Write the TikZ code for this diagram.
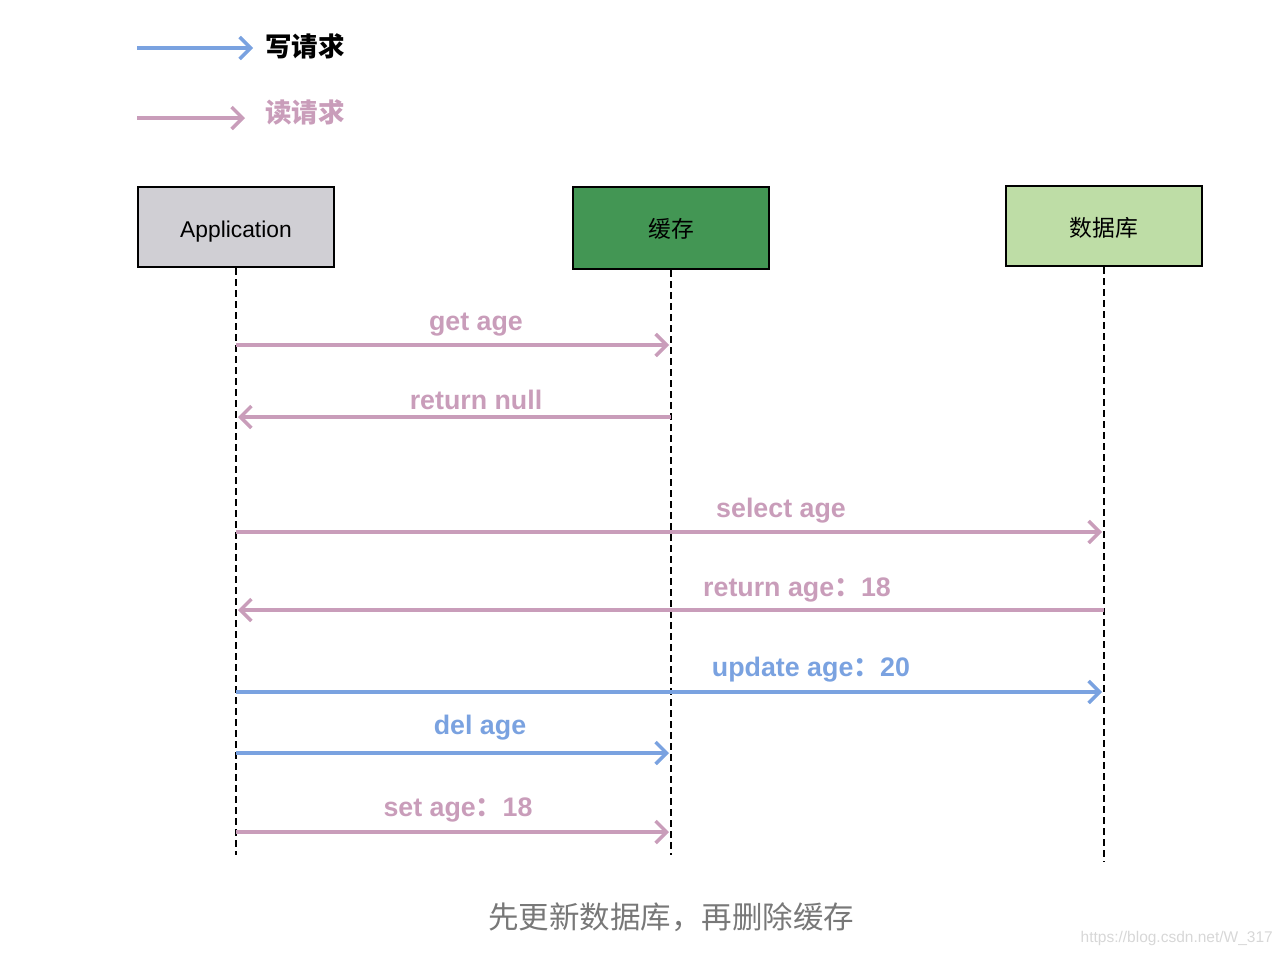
\documentclass[tikz,border=0pt]{standalone}
\usepackage{fontspec}
\setmainfont{Liberation Sans}
\newfontfamily\cjk{Noto Sans CJK SC}
\usetikzlibrary{arrows.meta}
\definecolor{readc}{RGB}{201,157,186}
\definecolor{writec}{RGB}{122,162,224}
\definecolor{appfill}{RGB}{208,207,212}
\definecolor{cachefill}{RGB}{67,150,84}
\definecolor{dbfill}{RGB}{190,221,166}
\definecolor{captc}{RGB}{120,120,120}
\definecolor{wmc}{RGB}{215,215,215}
\tikzset{
  actor/.style={draw=black, line width=2.6pt, minimum width=196pt, minimum height=80pt, inner sep=0pt, font=\fontsize{22.8}{26}\selectfont},
  life/.style={draw=black, line width=2pt, dash pattern=on 7pt off 4pt},
  msg/.style={line width=4pt, -{Straight Barb[length=11pt,width=22pt,line width=3.5pt]}, shorten >=2pt},
  rd/.style={msg, draw=readc},
  wr/.style={msg, draw=writec},
  lab/.style={font=\fontsize{26.8}{30}\selectfont\bfseries, inner sep=0pt},
  rdlab/.style={lab, text=readc},
  wrlab/.style={lab, text=writec}
}
\begin{document}
\begin{tikzpicture}[x=1pt,y=-1pt]
\useasboundingbox (0,0) rectangle (1282,956);
% legend
\coordinate (lw1) at (137,48); \coordinate (lw2) at (255,48);
\coordinate (lr1) at (137,118); \coordinate (lr2) at (247,118);
\draw[wr] (lw1) -- (lw2);
\draw[rd] (lr1) -- (lr2);
\node[anchor=west, inner sep=0pt, font=\fontsize{26.5}{30}\selectfont\cjk\bfseries] (legw) at (265,46) {写请求};
\node[anchor=west, inner sep=0pt, text=readc, font=\fontsize{26.5}{30}\selectfont\cjk\bfseries] (legr) at (265,112) {读请求};
% actors
\node[actor, fill=appfill] (app) at (236,227) {\raisebox{-10pt}[0pt][0pt]{Application}};
\node[actor, fill=cachefill, minimum height=82pt] (cache) at (671,228) {\cjk\raisebox{-9.7pt}[0pt][0pt]{缓存}};
\node[actor, fill=dbfill] (db) at (1104,226) {\cjk\raisebox{-10.7pt}[0pt][0pt]{数据库}};
% lifelines
\coordinate (append) at (236,855);
\coordinate (cacheend) at (671,855);
\coordinate (dbend) at (1104,862);
\draw[life] (app.south) -- (append);
\draw[life] (cache.south) -- (cacheend);
\draw[life] (db.south) -- (dbend);
% messages
\draw[rd] (app |- 0,345) -- (cache |- 0,345);
\node[rdlab] (m1) at (476,325) {get age};
\draw[rd] (cache |- 0,417) -- (app |- 0,417);
\node[rdlab] (m2) at (476,400) {return null};
\draw[rd] (app |- 0,532) -- (db |- 0,532);
\node[rdlab] (m3) at (781,511) {select age};
\draw[rd] (db |- 0,610) -- (app |- 0,610);
\node[rdlab] (m4) at (797,590) {return age{\cjk ：}18};
\draw[wr] (app |- 0,692) -- (db |- 0,692);
\node[wrlab] (m5) at (811,670) {update age{\cjk ：}20};
\draw[wr] (app |- 0,753) -- (cache |- 0,753);
\node[wrlab] (m6) at (480,728) {del age};
\draw[rd] (app |- 0,832) -- (cache |- 0,832);
\node[rdlab] (m7) at (458,810) {set age{\cjk ：}18};
% caption
\node[text=captc, font=\fontsize{30.5}{34}\selectfont\cjk, inner sep=0pt] (cap) at (671,917) {先更新数据库，再删除缓存};
\node[text=wmc, font=\fontsize{15.5}{17}\selectfont, inner sep=0pt, anchor=east] (wm) at (1273,938) {https://blog.csdn.net/W\_317};
\end{tikzpicture}
\end{document}
